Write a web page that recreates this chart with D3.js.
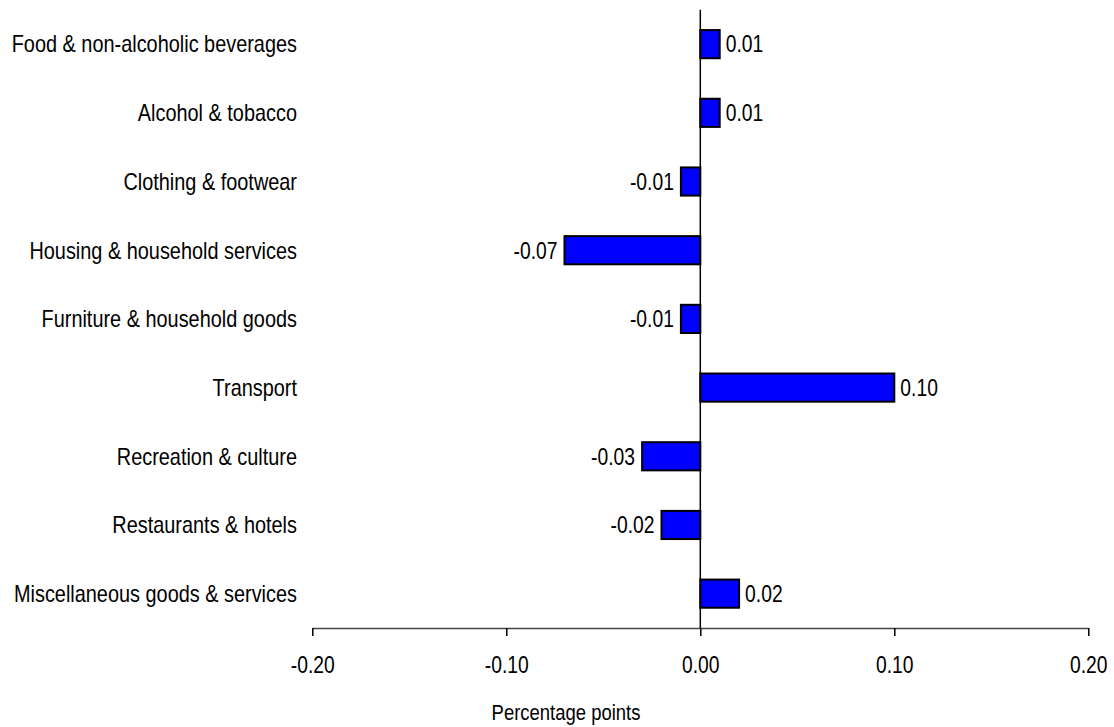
<!DOCTYPE html>
<html>
<head>
<meta charset="utf-8">
<script src="https://cdn.jsdelivr.net/npm/d3@7/dist/d3.min.js"></script>
<style>
  html, body { margin: 0; padding: 0; background: #fff; }
  svg text { font-family: "Liberation Sans", Arial, sans-serif; fill: #000; }
</style>
</head>
<body>
<svg class="js-render-chart" width="1114" height="727"></svg>
<script>
"use strict";

//data

const categories = [
  "Food & non-alcoholic beverages",
  "Alcohol & tobacco",
  "Clothing & footwear",
  "Housing & household services",
  "Furniture & household goods",
  "Transport",
  "Recreation & culture",
  "Restaurants & hotels",
  "Miscellaneous goods & services"
];

const values = [0.01, 0.01, -0.01, -0.07, -0.01, 0.10, -0.03, -0.02, 0.02];

const ticks = [-0.20, -0.10, 0.00, 0.10, 0.20];

const axisTitle = "Percentage points";

//narrow text (the chart uses a condensed face)

const squeeze = 0.84;

const fmt = (v) => d3.format(".2f")(v).replace("\u2212", "-");

//render chart

const renderChart = () => {

  const svg = d3.select(".js-render-chart");

  //scales

  const x = d3.scaleLinear()
    .domain([-0.2, 0.2])
    .range([312.3, 1088.3]);

  const y = d3.scaleBand()
    .domain(categories)
    .range([9.8, 628])
    .paddingInner(0.59)
    .paddingOuter(0.295);

  //x axis

  const axis = svg.append("g")
    .attr("transform", "translate(0, 628)")
    .call(d3.axisBottom(x).tickValues(ticks).tickFormat(fmt).tickSize(8).tickSizeOuter(0).tickPadding(21));

  axis.select(".domain").attr("stroke", "#444").attr("stroke-width", 1.5);
  axis.selectAll(".tick line").attr("stroke", "#000").attr("stroke-width", 1.5);
  axis.selectAll(".tick text")
    .attr("font-size", 23)
    .attr("font-family", null)
    .attr("transform", `scale(${squeeze}, 1)`);

  svg.append("text")
    .attr("transform", `translate(566, 720) scale(${squeeze}, 1)`)
    .attr("text-anchor", "middle")
    .attr("font-size", 22)
    .text(axisTitle);

  //category labels

  svg.append("g")
    .selectAll("text")
    .data(categories)
    .enter()
    .append("text")
    .attr("transform", (d) => `translate(297, ${y(d) + y.bandwidth() / 2}) scale(0.865, 1)`)
    .attr("dy", "0.36em")
    .attr("text-anchor", "end")
    .attr("font-size", 23)
    .text((d) => d);

  //bars

  const data = categories.map((c, i) => ({ c, v: values[i] }));

  svg.append("g")
    .selectAll("rect")
    .data(data)
    .enter()
    .append("rect")
    .attr("x", (d) => x(Math.min(0, d.v)))
    .attr("y", (d) => y(d.c))
    .attr("width", (d) => Math.abs(x(d.v) - x(0)))
    .attr("height", y.bandwidth())
    .attr("fill", "#0000ff")
    .attr("stroke", "#000")
    .attr("stroke-width", 2);

  //value labels

  svg.append("g")
    .selectAll("text")
    .data(data)
    .enter()
    .append("text")
    .attr("transform", (d) => {
      const px = d.v < 0 ? x(d.v) - 7 : x(d.v) + 6;
      return `translate(${px}, ${y(d.c) + y.bandwidth() / 2}) scale(${squeeze}, 1)`;
    })
    .attr("dy", "0.36em")
    .attr("text-anchor", (d) => d.v < 0 ? "end" : "start")
    .attr("font-size", 23)
    .text((d) => fmt(d.v));

  //zero line

  svg.append("line")
    .attr("x1", x(0))
    .attr("x2", x(0))
    .attr("y1", y.range()[0])
    .attr("y2", y.range()[1])
    .attr("stroke", "#000")
    .attr("stroke-width", 1.5);

};

renderChart();
</script>
</body>
</html>
